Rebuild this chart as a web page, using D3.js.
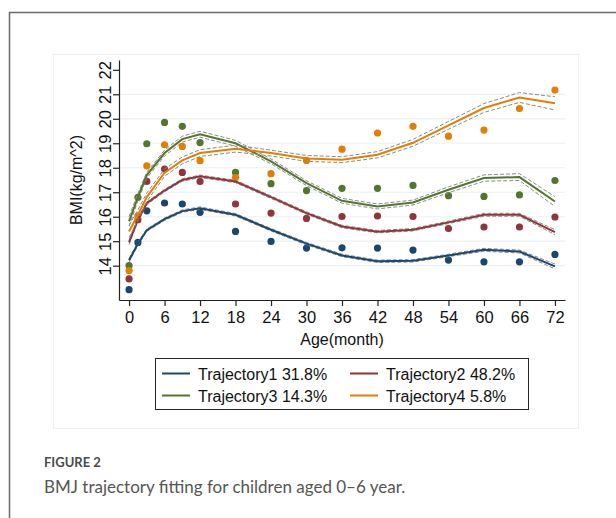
<!DOCTYPE html>
<html><head><meta charset="utf-8">
<script src="https://cdn.jsdelivr.net/npm/d3@7"></script>
<style>html,body{margin:0;padding:0;background:#fff;}svg{display:block;}</style>
</head><body>
<svg id="c" width="616" height="518"></svg>
<script>
const ages = [0, 1.5, 3, 6, 9, 12, 18, 24, 30, 36, 42, 48, 54, 60, 66, 72];
const xTicks = [0, 6, 12, 18, 24, 30, 36, 42, 48, 54, 60, 66, 72];
const yTicks = [14, 15, 16, 17, 18, 19, 20, 21, 22];
const seriesNames = ["Trajectory1 31.8%", "Trajectory2 48.2%", "Trajectory3 14.3%", "Trajectory4 5.8%"];
const obs1 = [13.02, 14.95, 16.24, 16.56, 16.52, 16.18, 15.40, 14.99, 14.72, 14.73, 14.72, 14.64, 14.23, 14.16, 14.16, 14.46];
const obs2 = [13.46, 15.88, 17.44, 17.95, 17.81, 17.44, 16.52, 16.15, 15.93, 16.01, 16.03, 16.01, 15.52, 15.58, 15.58, 15.99];
const obs3 = [14.00, 16.79, 18.98, 19.85, 19.69, 19.03, 17.81, 17.35, 17.07, 17.16, 17.16, 17.28, 16.86, 16.83, 16.89, 17.48];
const obs4 = [13.80, 16.04, 18.08, 18.94, 18.87, 18.29, 17.60, 17.76, 18.30, 18.76, 19.42, 19.69, 19.29, 19.54, 20.42, 21.17];
const fit1 = [14.22, 14.90, 15.45, 15.90, 16.23, 16.35, 16.08, 15.47, 14.90, 14.42, 14.18, 14.20, 14.42, 14.65, 14.58, 13.97];
const fit2 = [14.95, 15.88, 16.55, 17.07, 17.50, 17.65, 17.44, 16.80, 16.15, 15.60, 15.39, 15.47, 15.77, 16.08, 16.08, 15.37];
const fit3 = [15.81, 16.80, 17.70, 18.60, 19.17, 19.37, 19.00, 18.26, 17.37, 16.65, 16.42, 16.58, 17.10, 17.58, 17.62, 16.62];
const fit4 = [15.40, 16.08, 16.80, 17.80, 18.30, 18.60, 18.78, 18.60, 18.38, 18.33, 18.53, 19.02, 19.73, 20.44, 20.87, 20.63];
const ci1 = [0.08, 0.06, 0.05, 0.05, 0.05, 0.05, 0.05, 0.05, 0.05, 0.05, 0.05, 0.05, 0.05, 0.06, 0.06, 0.10];
const ci2 = [0.08, 0.06, 0.05, 0.05, 0.05, 0.05, 0.05, 0.05, 0.05, 0.05, 0.05, 0.05, 0.05, 0.06, 0.06, 0.10];
const ci3 = [0.20, 0.15, 0.12, 0.12, 0.12, 0.12, 0.12, 0.10, 0.10, 0.10, 0.10, 0.10, 0.12, 0.13, 0.14, 0.20];
const ci4 = [0.25, 0.20, 0.17, 0.15, 0.14, 0.14, 0.14, 0.12, 0.12, 0.12, 0.13, 0.14, 0.16, 0.18, 0.20, 0.27];
const colors = ["#1a476f", "#90353b", "#55752f", "#e37e00"];

const series = [
  {name: seriesNames[0], obs: obs1, fit: fit1, ci: ci1, color: colors[0]},
  {name: seriesNames[1], obs: obs2, fit: fit2, ci: ci2, color: colors[1]},
  {name: seriesNames[2], obs: obs3, fit: fit3, ci: ci3, color: colors[2]},
  {name: seriesNames[3], obs: obs4, fit: fit4, ci: ci4, color: colors[3]}
];

const svg = d3.select("#c");
const AX = "Liberation Sans, Arial, sans-serif";

// page frame
svg.append("path").attr("d", "M9.5,518 V12.5 H616").attr("fill", "none").attr("stroke", "#6b6b6b").attr("stroke-width", 1.5);
svg.append("rect").attr("x", 53.5).attr("y", 54.5).attr("width", 525).attr("height", 374)
  .attr("fill", "none").attr("stroke", "#efefef").attr("stroke-width", 1);

const x = d3.scaleLinear().domain([-1.7, 73.7]).range([119, 565]);
const y = d3.scaleLinear().domain([12.6, 22.4]).range([300, 60]);

// grid
svg.append("g").selectAll("line").data(yTicks.filter(t => t < 22)).join("line")
  .attr("x1", 119).attr("x2", 565).attr("y1", d => y(d)).attr("y2", d => y(d))
  .attr("stroke", "#eaf2f3").attr("stroke-width", 1.2);

// axes
const gx = svg.append("g").attr("transform", "translate(0,300)")
  .call(d3.axisBottom(x).tickValues(xTicks).tickSize(6).tickPadding(5).tickSizeOuter(0));
const gy = svg.append("g").attr("transform", "translate(119,0)")
  .call(d3.axisLeft(y).tickValues(yTicks).tickSize(6).tickSizeOuter(0));
[gx, gy].forEach(g => {
  g.select(".domain").attr("stroke", "#222").attr("stroke-width", 1.2);
  g.selectAll(".tick line").attr("stroke", "#222").attr("stroke-width", 1.2);
  g.selectAll("text").attr("font-family", AX).attr("font-size", 16.5).attr("fill", "#111");
});
gy.selectAll(".tick text")
  .attr("text-anchor", "middle").attr("dy", null).attr("x", null)
  .attr("transform", "translate(-8,0) rotate(-90)");

// axis titles
svg.append("text").attr("x", 342).attr("y", 345).attr("text-anchor", "middle")
  .attr("font-family", AX).attr("font-size", 16).attr("fill", "#111").text("Age(month)");
svg.append("text").attr("transform", "translate(82,180) rotate(-90)").attr("text-anchor", "middle")
  .attr("font-family", AX).attr("font-size", 16).attr("fill", "#111").text("BMI(kg/m^2)");

const plot = svg.append("g");
// points
series.forEach(s => {
  plot.append("g").selectAll("circle").data(ages.map((a, i) => [a, s.obs[i]])).join("circle")
    .attr("cx", d => x(d[0])).attr("cy", d => y(d[1])).attr("r", 3.6).attr("fill", s.color);
});
// fitted lines + CI
const line = d3.line().x(d => x(d[0])).y(d => y(d[1]));
series.forEach(s => {
  plot.append("path").datum(ages.map((a, i) => [a, s.fit[i] + s.ci[i]]))
    .attr("d", line).attr("fill", "none").attr("stroke", "#8a8a8a").attr("stroke-width", 1).attr("stroke-dasharray", "4,2");
  plot.append("path").datum(ages.map((a, i) => [a, s.fit[i] - s.ci[i]]))
    .attr("d", line).attr("fill", "none").attr("stroke", "#8a8a8a").attr("stroke-width", 1).attr("stroke-dasharray", "4,2");
  plot.append("path").datum(ages.map((a, i) => [a, s.fit[i]]))
    .attr("d", line).attr("fill", "none").attr("stroke", s.color).attr("stroke-width", 2);
});

// legend
const lg = svg.append("g");
lg.append("rect").attr("x", 155.5).attr("y", 358.5).attr("width", 373).attr("height", 51)
  .attr("fill", "#fff").attr("stroke", "#222").attr("stroke-width", 1);
const legPos = [[162, 373.5], [350, 373.5], [162, 395.5], [350, 395.5]];
series.forEach((s, i) => {
  const [lx, ly] = legPos[i];
  lg.append("line").attr("x1", lx).attr("x2", lx + 28).attr("y1", ly).attr("y2", ly)
    .attr("stroke", s.color).attr("stroke-width", 2);
  lg.append("text").attr("x", lx + 36).attr("y", ly + 6).attr("font-family", AX).attr("font-size", 16)
    .attr("fill", "#111").text(s.name);
});

// caption
svg.append("text").attr("x", 44).attr("y", 467).attr("font-family", "Lato, 'Open Sans', sans-serif")
  .attr("font-size", 13).attr("font-weight", 700).attr("fill", "#4a4a4a").text("FIGURE 2");
svg.append("text").attr("x", 44).attr("y", 493).attr("font-family", "Lato, 'Open Sans', sans-serif")
  .attr("font-size", 17).attr("fill", "#555").text("BMJ trajectory fitting for children aged 0–6 year.");
</script>
</body></html>
